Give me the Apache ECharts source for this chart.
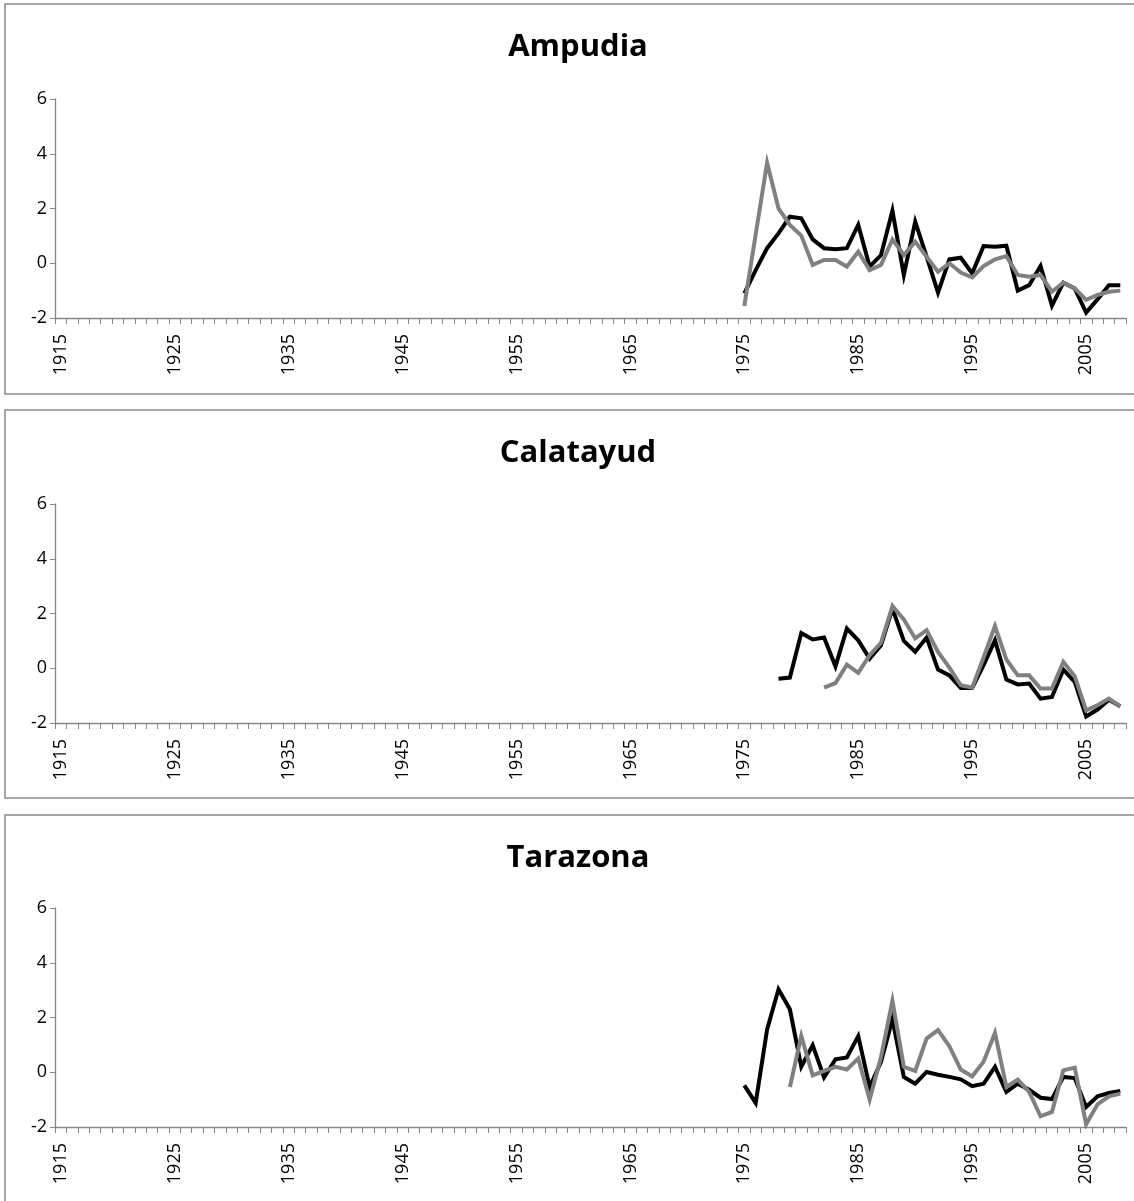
<!DOCTYPE html>
<html>
<head>
<meta charset="utf-8">
<script src="https://cdn.jsdelivr.net/npm/echarts@6/dist/echarts.min.js"></script>
<style>
html,body{margin:0;padding:0;background:#fff;}
#chart{width:1134px;height:1201px;}
</style>
</head>
<body>
<div id="chart"></div>
<script>
// Category axis: years
const yearStart = 1915;
const yearEnd = 2008;
const yTicks = [-2, 0, 2, 4, 6];

const panelTitles = ['Ampudia', 'Calatayud', 'Tarazona'];

// Ampudia
const ampudiaBlackStart = 1975;
const ampudiaBlack = [-1.10, -0.25, 0.55, 1.09, 1.70, 1.64, 0.87, 0.55, 0.51, 0.55, 1.40, -0.12, 0.30, 1.92, -0.43, 1.52, 0.24, -1.07, 0.14, 0.20, -0.37, 0.63, 0.60, 0.64, -1.00, -0.80, -0.10, -1.55, -0.71, -0.92, -1.80, -1.32, -0.80, -0.80];
const ampudiaGrayStart = 1975;
const ampudiaGray = [-1.56, 1.06, 3.67, 2.00, 1.40, 1.01, -0.06, 0.12, 0.12, -0.12, 0.42, -0.25, -0.06, 0.87, 0.30, 0.79, 0.24, -0.31, 0.00, -0.34, -0.52, -0.10, 0.14, 0.26, -0.43, -0.49, -0.43, -1.04, -0.71, -0.92, -1.34, -1.16, -1.04, -1.00];

// Calatayud
const calatayudBlackStart = 1978;
const calatayudBlack = [-0.38, -0.34, 1.29, 1.05, 1.12, 0.07, 1.45, 1.02, 0.35, 0.84, 2.18, 1.00, 0.60, 1.12, -0.05, -0.26, -0.72, -0.72, 0.11, 1.02, -0.41, -0.59, -0.56, -1.11, -1.05, -0.05, -0.50, -1.76, -1.51, -1.15, -1.39];
const calatayudGrayStart = 1982;
const calatayudGray = [-0.71, -0.54, 0.13, -0.17, 0.48, 0.93, 2.27, 1.78, 1.09, 1.39, 0.60, 0.02, -0.62, -0.71, 0.39, 1.54, 0.32, -0.26, -0.26, -0.74, -0.74, 0.23, -0.29, -1.54, -1.35, -1.11, -1.39];

// Tarazona
const tarazonaBlackStart = 1975;
const tarazonaBlack = [-0.48, -1.12, 1.56, 3.03, 2.30, 0.20, 0.99, -0.19, 0.47, 0.54, 1.32, -0.54, 0.38, 1.93, -0.17, -0.42, 0.01, -0.09, -0.17, -0.26, -0.51, -0.42, 0.20, -0.72, -0.42, -0.64, -0.93, -0.98, -0.17, -0.21, -1.27, -0.88, -0.76, -0.68];
const tarazonaGrayStart = 1979;
const tarazonaGray = [-0.54, 1.32, -0.11, 0.05, 0.20, 0.10, 0.50, -1.00, 0.56, 2.61, 0.20, 0.05, 1.23, 1.54, 0.95, 0.10, -0.15, 0.38, 1.44, -0.54, -0.27, -0.72, -1.61, -1.45, 0.07, 0.17, -1.90, -1.17, -0.88, -0.78];

const years = [];
for (let y = yearStart; y <= yearEnd; y++) years.push(String(y));

function pad(start, vals) {
  const out = years.map(() => null);
  vals.forEach((v, i) => { out[start - yearStart + i] = v; });
  return out;
}

const panels = [
  {title: panelTitles[0], black: pad(ampudiaBlackStart, ampudiaBlack), gray: pad(ampudiaGrayStart, ampudiaGray)},
  {title: panelTitles[1], black: pad(calatayudBlackStart, calatayudBlack), gray: pad(calatayudGrayStart, calatayudGray)},
  {title: panelTitles[2], black: pad(tarazonaBlackStart, tarazonaBlack), gray: pad(tarazonaGrayStart, tarazonaGray)}
];

// layout
const gridTops = [99, 504, 908];
const gridHeight = 219;
const boxTops = [4, 410, 815];
const boxBottoms = [394, 798, 1215];
const titleTops = [27, 433, 838];

const axisGray = '#868686';
const font = 'Open Sans';

const option = {
  backgroundColor: '#fff',
  animation: false,
  title: panels.map((p, i) => ({
    text: p.title,
    left: 573,
    top: titleTops[i],
    textAlign: 'center',
    textStyle: {fontFamily: font, fontWeight: 'bold', fontSize: 31, color: '#000'}
  })),
  graphic: boxTops.map((t, i) => ({
    type: 'rect',
    shape: {x: 5, y: t, width: 1160, height: boxBottoms[i] - t},
    style: {fill: 'none', stroke: '#898989', lineWidth: 1.5},
    silent: true, z: -1
  })),
  grid: gridTops.map(t => ({left: 55, width: 1071, top: t, height: gridHeight})),
  xAxis: gridTops.map((t, i) => ({
    type: 'category',
    gridIndex: i,
    data: years,
    boundaryGap: true,
    axisLine: {onZero: false, lineStyle: {color: axisGray, width: 1.3}},
    axisTick: {show: true, interval: 0, length: 6, lineStyle: {color: axisGray}},
    axisLabel: {interval: 9, rotate: 90, margin: 16, color: '#000', fontFamily: font, fontSize: 18},
    splitLine: {show: false}
  })),
  yAxis: gridTops.map((t, i) => ({
    type: 'value',
    gridIndex: i,
    min: -2, max: 6, interval: 2,
    axisLine: {show: true, lineStyle: {color: axisGray, width: 1.3}},
    axisTick: {show: true, length: 5, lineStyle: {color: axisGray}},
    axisLabel: {margin: 8, color: '#000', fontFamily: font, fontSize: 18},
    splitLine: {show: false}
  })),
  series: []
};

panels.forEach((p, i) => {
  option.series.push({
    type: 'line', xAxisIndex: i, yAxisIndex: i, data: p.black,
    showSymbol: false, symbol: 'none', connectNulls: false,
    lineStyle: {color: '#000000', width: 4, join: 'miter'}, z: 3
  });
  option.series.push({
    type: 'line', xAxisIndex: i, yAxisIndex: i, data: p.gray,
    showSymbol: false, symbol: 'none', connectNulls: false,
    lineStyle: {color: '#808080', width: 4, join: 'miter'}, z: 4
  });
});

const chart = echarts.init(document.getElementById('chart'), null, {renderer: 'canvas'});
chart.setOption(option);
</script>
</body>
</html>
